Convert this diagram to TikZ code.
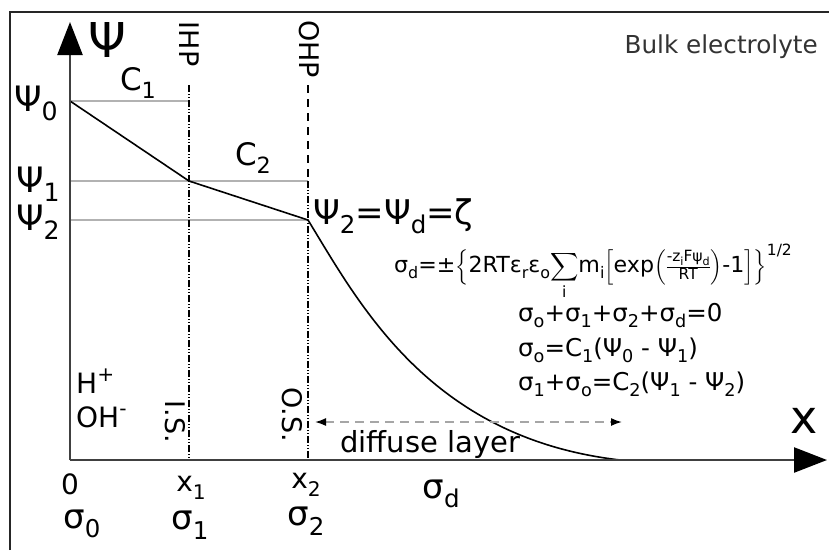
\documentclass[tikz,border=0pt]{standalone}
\usepackage{fontspec}
\setmainfont{DejaVu Sans}
\usepackage{amsmath}
\usepackage{graphicx}
\usetikzlibrary{arrows.meta}

\newcommand{\fs}[1]{\fontsize{#1}{#1}\selectfont}
\newcommand{\lo}[1]{\raisebox{-0.28em}{\scalebox{0.72}{#1}}}
\newcommand{\hi}[1]{\raisebox{0.42em}{\scalebox{0.72}{#1}}}

\tikzset{edlaxis/.style={line width=2.4pt,draw=black!75,-{Triangle[length=33pt,width=25pt,black]}},
         edlref/.style={line width=2pt,draw=black!30},
         edlplane/.style={line width=1.1pt,dash pattern=on 7pt off 2pt on 1pt off 2pt on 1pt off 2pt},
         edlouter/.style={line width=1.1pt,dash pattern=on 8pt off 6pt},
         edlrot/.style={rotate=-90,font=\fs{27}},
         edlsig/.style={font=\fs{34}}}

\begin{document}
\begin{tikzpicture}[x=1pt,y=-1pt,every node/.style={inner sep=0pt,font=\fs{28}}]
  \useasboundingbox (0,0) rectangle (829,550);
  \draw[line width=1.3pt,black!85] (10,550) |- (829,12);
  % key points
  \coordinate (O) at (70,460);  \coordinate (Ytip) at (70,22);  \coordinate (Xtip) at (827,460);
  \coordinate (p0) at (70,101); \coordinate (p1) at (189,181); \coordinate (p2) at (308,220);
  \coordinate (pe) at (620,460);
  \coordinate (a1) at (70,181); \coordinate (a2) at (70,220);
  \coordinate (ihpT) at (189,85); \coordinate (ihp0) at (189,101); \coordinate (ihpB) at (189,460);
  \coordinate (ohpT) at (308,85); \coordinate (ohpM) at (308,181); \coordinate (ohpB) at (308,460);
  % reference levels
  \draw[edlref] (p0) -- (ihp0); \draw[edlref] (a1) -- (ohpM); \draw[edlref] (a2) -- (p2);
  % IHP, OHP
  \draw[edlplane] (ihpT) -- (ihpB);
  \draw[edlouter] (ohpT) -- (ohpM); \draw[edlplane] (ohpM) -- (ohpB);
  \node[edlrot] (ihp) at (189,44) {IHP};
  \node[edlrot] (ohp) at (309,49) {OHP};
  \node[edlrot] (is) at (175,422) {I.S.};
  \node[edlrot] (os) at (292,415) {O.S.};
  % potential
  \draw[line width=1.6pt] (p0) -- (p1) -- (p2) .. controls (360,305) and (430,438) .. (pe);
  % axes
  \draw[edlaxis] (O) -- (Ytip);
  \draw[edlaxis] (O) -- (Xtip);
  \node[font=\fs{48}] (psi) at (107,40) {Ψ};
  \node[font=\fs{46}] (xax) at (804,421) {x};
  % potential labels
  \node[anchor=base west,font=\fs{35}] (l0) at (14,111) {Ψ\lo{0}};
  \node[anchor=base west,font=\fs{35}] (l1) at (16,192) {Ψ\lo{1}};
  \node[anchor=base west,font=\fs{35}] (l2) at (16,230) {Ψ\lo{2}};
  \node[anchor=base west,font=\fs{34}] (zeta) at (313,224) {Ψ\lo{2}=Ψ\lo{d}=ζ};
  \node[font=\fs{31}] (c1) at (138,83) {C\lo{1}};
  \node[font=\fs{31}] (c2) at (253,158) {C\lo{2}};
  \node[anchor=base east,font=\fs{24.7},text=black!80] (bulk) at (818,53) {Bulk electrolyte};
  % charge balance
  \node[anchor=base west] (sd) at (394,272) {\resizebox{398pt}{!}{$\text{σ\lo{d}=±}\Bigl\{\text{2RTε\lo{r}ε\lo{o}}{\displaystyle\sum_{\text{i}}}\text{m\lo{i}}\Bigl[\text{exp}\Bigl(\frac{\text{-z\lo{i}Fψ\lo{d}}}{\text{RT}}\Bigr)\text{-1}\Bigr]\Bigr\}^{\text{1/2}}$}};
  \node[anchor=base west,font=\fs{24.5}] (eq1) at (518,321) {σ\lo{o}+σ\lo{1}+σ\lo{2}+σ\lo{d}=0};
  \node[anchor=base west,font=\fs{24.5}] (eq2) at (518,356) {σ\lo{o}=C\lo{1}(Ψ\lo{0} - Ψ\lo{1})};
  \node[anchor=base west,font=\fs{24.5}] (eq3) at (518,390) {σ\lo{1}+σ\lo{o}=C\lo{2}(Ψ\lo{1} - Ψ\lo{2})};
  % ions
  \node[anchor=base west,font=\fs{28}] (hp) at (76,393) {H\hi{+}};
  \node[anchor=base west,font=\fs{28}] (oh) at (76,427) {OH\hi{-}};
  % diffuse layer
  \coordinate (dl) at (315,422); \coordinate (dr) at (622,422);
  \draw[line width=1.6pt,draw=black!35,dash pattern=on 9pt off 6pt,{Latex[black,length=11pt,width=8pt]}-{Latex[black,length=11pt,width=8pt]}] (dl) -- (dr);
  \node[anchor=base west,font=\fs{29}] (dif) at (340,452) {diffuse layer};
  % positions and charges
  \node (x0) at (70,484) {0};
  \node (x1) at (191,488) {x\lo{1}};
  \node (x2) at (306,485) {x\lo{2}};
  \node[edlsig] (s0) at (82,524) {σ\lo{0}};
  \node[edlsig] (s1) at (190,525) {σ\lo{1}};
  \node[edlsig] (s2) at (306,521) {σ\lo{2}};
  \node[edlsig] (sdl) at (441,494) {σ\lo{d}};
\end{tikzpicture}
\end{document}
